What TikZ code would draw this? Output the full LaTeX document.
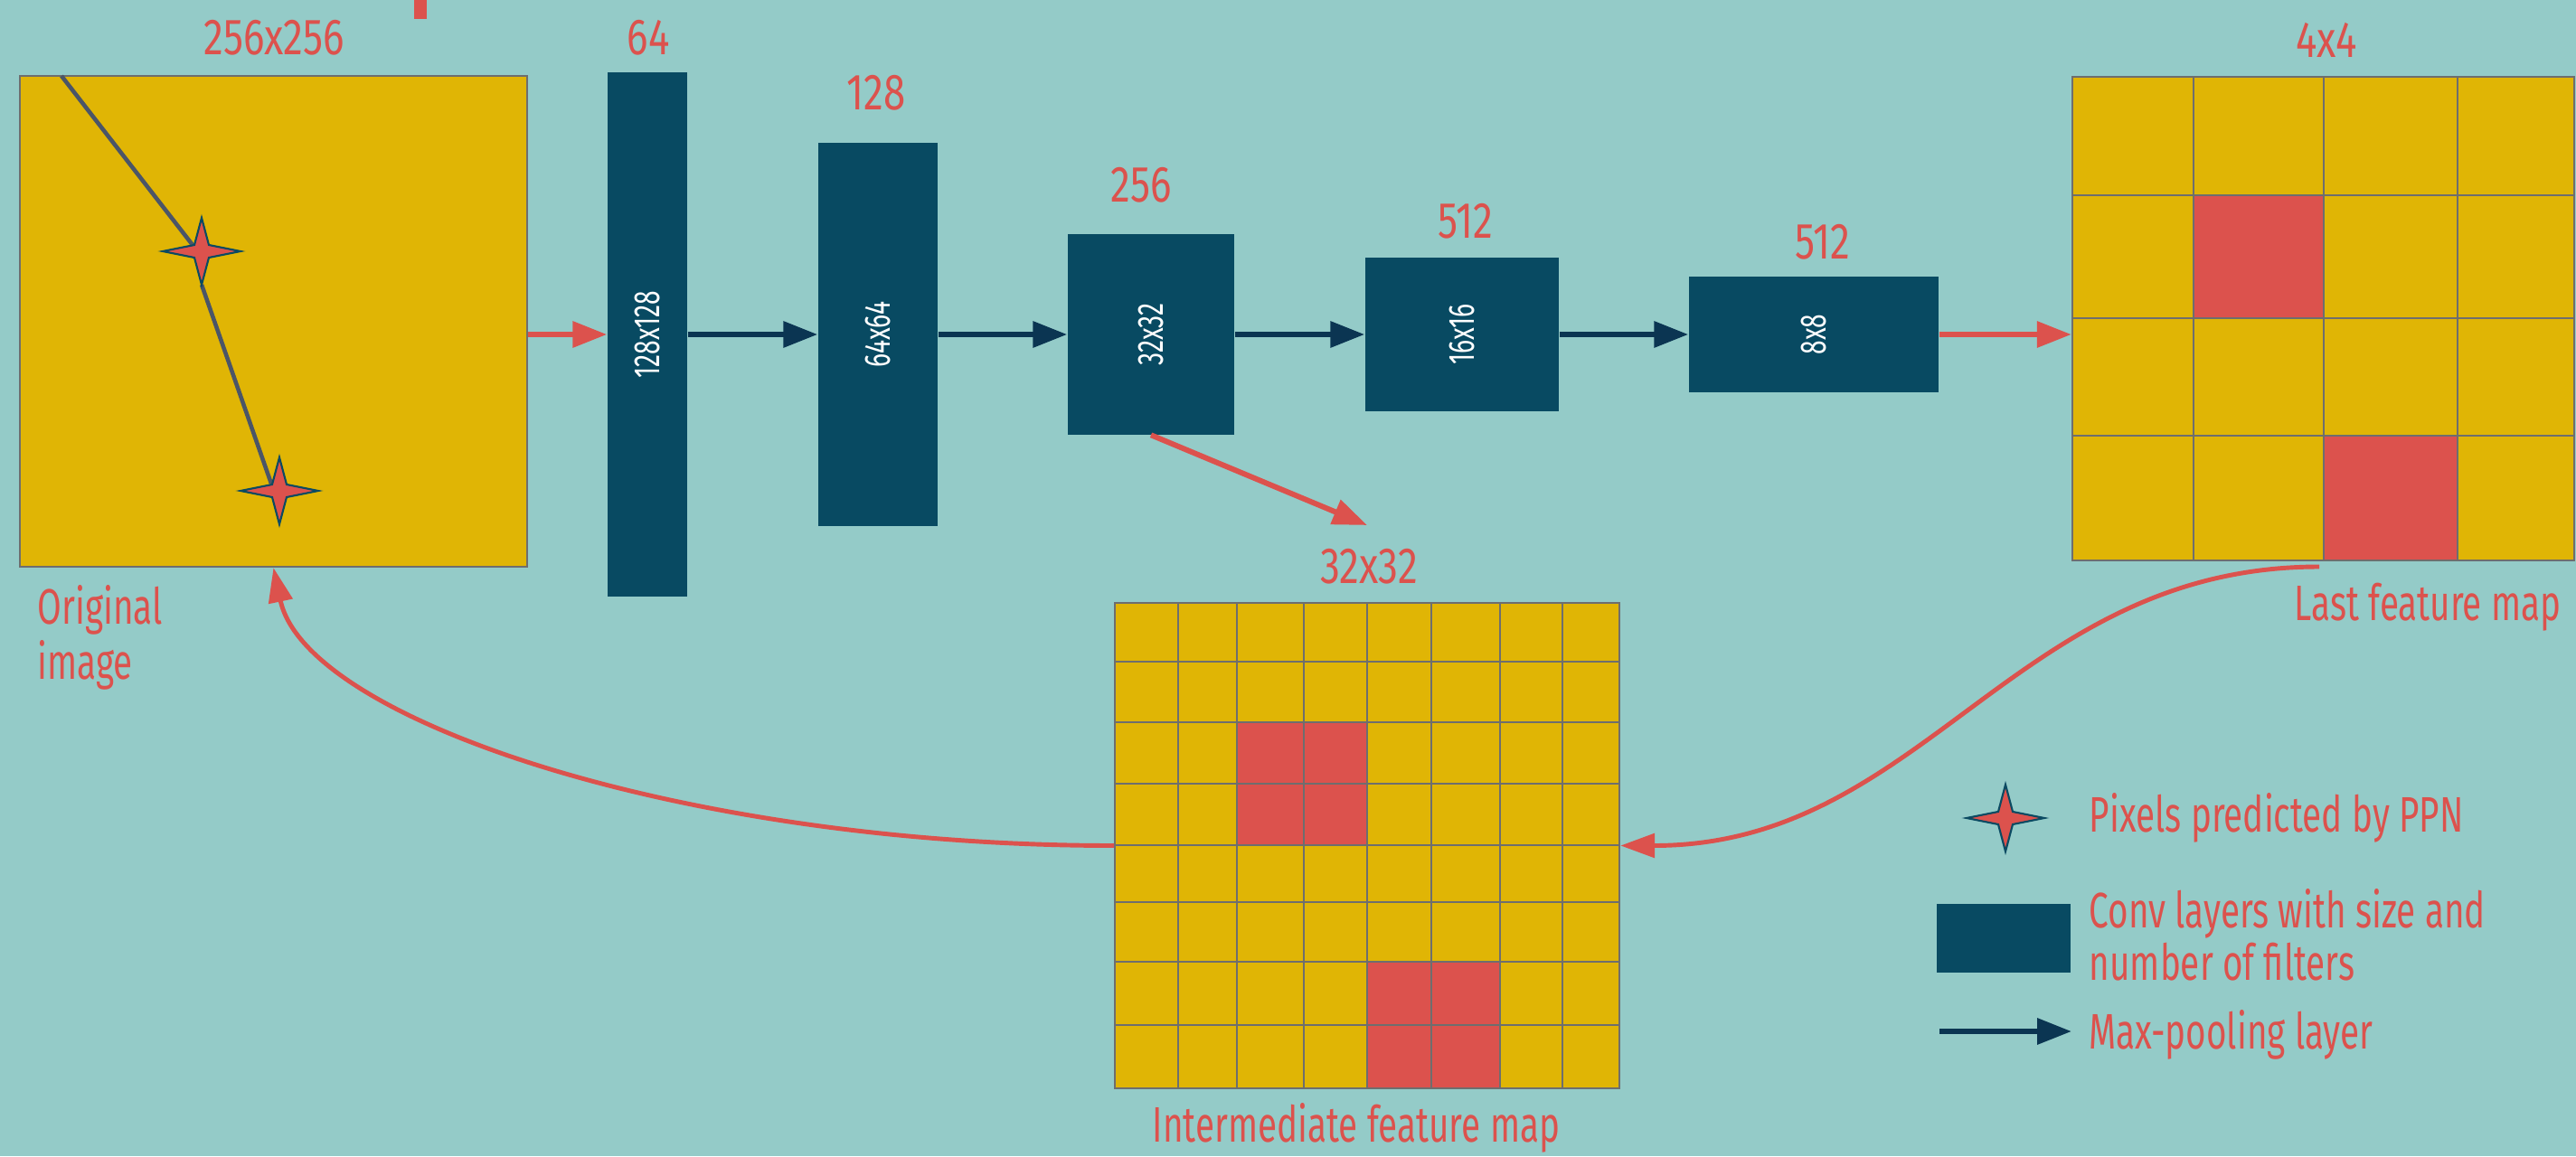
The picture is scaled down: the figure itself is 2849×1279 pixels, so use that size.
\documentclass[tikz,border=0pt]{standalone}
\usepackage{fontspec}
\setmainfont{Fira Sans}[FakeStretch=0.7]
\newfontfamily\numfont{Fira Sans}[FakeStretch=0.78]
\usetikzlibrary{arrows.meta}
\definecolor{bgc}{HTML}{94CBC8}
\definecolor{yelc}{HTML}{E0B505}
\definecolor{redc}{HTML}{DC524D}
\definecolor{barc}{HTML}{084A62}
\definecolor{arrc}{HTML}{0B3552}
\definecolor{gridc}{HTML}{6E6E6E}
\definecolor{starc}{HTML}{0B4A62}
\definecolor{linec}{HTML}{4B5567}
\tikzset{
  lbl/.style={text=redc, font=\fontsize{15.7}{17.6}\selectfont, inner sep=0pt},
  numlbl/.style={text=redc, font=\numfont\fontsize{16}{18}\selectfont, inner sep=0pt},
  barlbl/.style={text=white, font=\fontsize{11.5}{13}\selectfont, rotate=90, inner sep=0pt},
  convbar/.style={fill=barc, draw=none, inner sep=0pt},
  imgbox/.style={fill=yelc, draw=gridc, line width=0.6pt, inner sep=0pt},
  redarrow/.style={draw=redc, line width=1.7pt, -{Triangle[length=10.8pt,width=8pt]}},
  darkarrow/.style={draw=arrc, line width=1.7pt, -{Triangle[length=10.8pt,width=8pt]}},
  curvearrow/.style={draw=redc, line width=1.4pt, -{Triangle[length=10.8pt,width=7.5pt]}},
  ppnstar/.pic={\filldraw[fill=redc, draw=starc, line width=0.6pt]
     (43,0) -- (8,-7) -- (0,-37) -- (-8,-7) -- (-43,0) -- (-8,7) -- (0,37) -- (8,7) -- cycle;}
}
\begin{document}
\begin{tikzpicture}[x=0.01cm,y=-0.01cm]
\fill[bgc] (0,0) rectangle (2849,1279);
\useasboundingbox (0,0) rectangle (2849,1279);
% top red mark
\fill[redc] (458,0) rectangle (472,21);

% original image
\node[imgbox, minimum width=5.61cm, minimum height=5.43cm] (orig) at (302.5,355.5) {};
\coordinate (s1) at (223,278);
\coordinate (s2) at (309,543);
\coordinate (l0) at (68,84);
\coordinate (l1) at (213,271);
\coordinate (l2) at (223,315);
\coordinate (l3) at (300,535);
\draw[linec, line width=1.3pt] (l0) -- (l1);
\draw[linec, line width=1.3pt] (l2) -- (l3);
\pic at (s1) {ppnstar};
\pic at (s2) {ppnstar};
\node[numlbl] (t256) at (303,42) {256x256};
\node[lbl, align=left, anchor=north west, font=\fontsize{15.7}{17.6}\selectfont] (origlbl) at (41,647) {Original\\[-0.2pt]image};

% conv bars
\node[convbar, minimum width=0.88cm, minimum height=5.80cm] (c1) at (716,370) {};
\node[convbar, minimum width=1.32cm, minimum height=4.24cm] (c2) at (971,370) {};
\node[convbar, minimum width=1.84cm, minimum height=2.21cm] (c3) at (1273,370) {};
\node[convbar, minimum width=2.14cm, minimum height=1.70cm] (c4) at (1617,370) {};
\node[convbar, minimum width=2.76cm, minimum height=1.27cm] (c5) at (2006,370) {};
\node[barlbl] at (c1) {128x128};
\node[barlbl] at (c2) {64x64};
\node[barlbl] at (c3) {32x32};
\node[barlbl] at (c4) {16x16};
\node[barlbl] at (c5) {8x8};
\node[numlbl] (n1) at (717,42) {64};
\node[numlbl] (n2) at (969,103) {128};
\node[numlbl] (n3) at (1262,205) {256};
\node[numlbl] (n4) at (1621,245) {512};
\node[numlbl] (n5) at (2016,268) {512};

% arrows along the pipeline
\draw[redarrow] (orig.east |- c1.west) -- (c1.west);
\draw[darkarrow] (c1.east) -- (c2.west);
\draw[darkarrow] (c2.east) -- (c3.west);
\draw[darkarrow] (c3.east) -- (c4.west);
\draw[darkarrow] (c4.east) -- (c5.west);

% last feature map
\node[imgbox, minimum width=5.55cm, minimum height=5.35cm] (lfm) at (2569.5,352.5) {};
\filldraw[fill=redc, draw=starc, line width=0.6pt] (2426,216) rectangle (2570,352);
\filldraw[fill=redc, draw=starc, line width=0.6pt] (2570,482) rectangle (2718,620);
\foreach \x in {2426,2570,2718} \draw[gridc, line width=0.6pt] (\x,85) -- (\x,620);
\foreach \y in {216,352,482} \draw[gridc, line width=0.6pt] (2292,\y) -- (2847,\y);
\draw[gridc, line width=0.6pt] (2292,85) rectangle (2847,620);
\node[numlbl] (t44) at (2573,44) {4x4};
\node[lbl] (lfmlbl) at (2685,672) {Last feature map};
\draw[redarrow] (c5.east) -- (c5.east -| lfm.west);

% intermediate feature map
\node[imgbox, minimum width=5.58cm, minimum height=5.37cm] (ifm) at (1512,935.5) {};
\fill[redc] (1368,799) rectangle (1512,935);
\fill[redc] (1512,1064) rectangle (1659,1204);
\foreach \x in {1303,1368,1442,1512,1583,1659,1728} \draw[gridc, line width=0.6pt] (\x,667) -- (\x,1204);
\foreach \y in {732,799,867,935,998,1064,1134} \draw[gridc, line width=0.6pt] (1233,\y) -- (1791,\y);
\draw[gridc, line width=0.6pt] (1233,667) rectangle (1791,1204);
\node[numlbl] (t3232) at (1514,627) {32x32};
\node[lbl] (ifmlbl) at (1500,1248) {Intermediate feature map};
\coordinate (tip32) at (1512,581);
\draw[redarrow] (c3.south) -- (tip32);

% curved arrows
\coordinate (lfmout) at (2565,627);
\draw[curvearrow] (lfmout) .. controls (2227,627) and (2128,935.5) .. (ifm.east);
\draw[curvearrow] (ifm.west) .. controls (753,935.5) and (338,795) .. (orig.south);

% legend
\coordinate (ls) at (2218,905);
\pic at (ls) {ppnstar};
\node[lbl, anchor=west] (leg1) at (2310,905) {Pixels predicted by PPN};
\node[convbar, minimum width=1.48cm, minimum height=0.76cm] (legrect) at (2216,1038) {};
\node[lbl, anchor=west, align=left, font=\fontsize{15.7}{16.5}\selectfont] (leg2) at (2310,1034) {Conv layers with size and\\number of filters};
\coordinate (la0) at (2145,1141);
\coordinate (la1) at (2291,1141);
\draw[darkarrow] (la0) -- (la1);
\node[lbl, anchor=west] (leg3) at (2310,1145) {Max-pooling layer};
\end{tikzpicture}
\end{document}
